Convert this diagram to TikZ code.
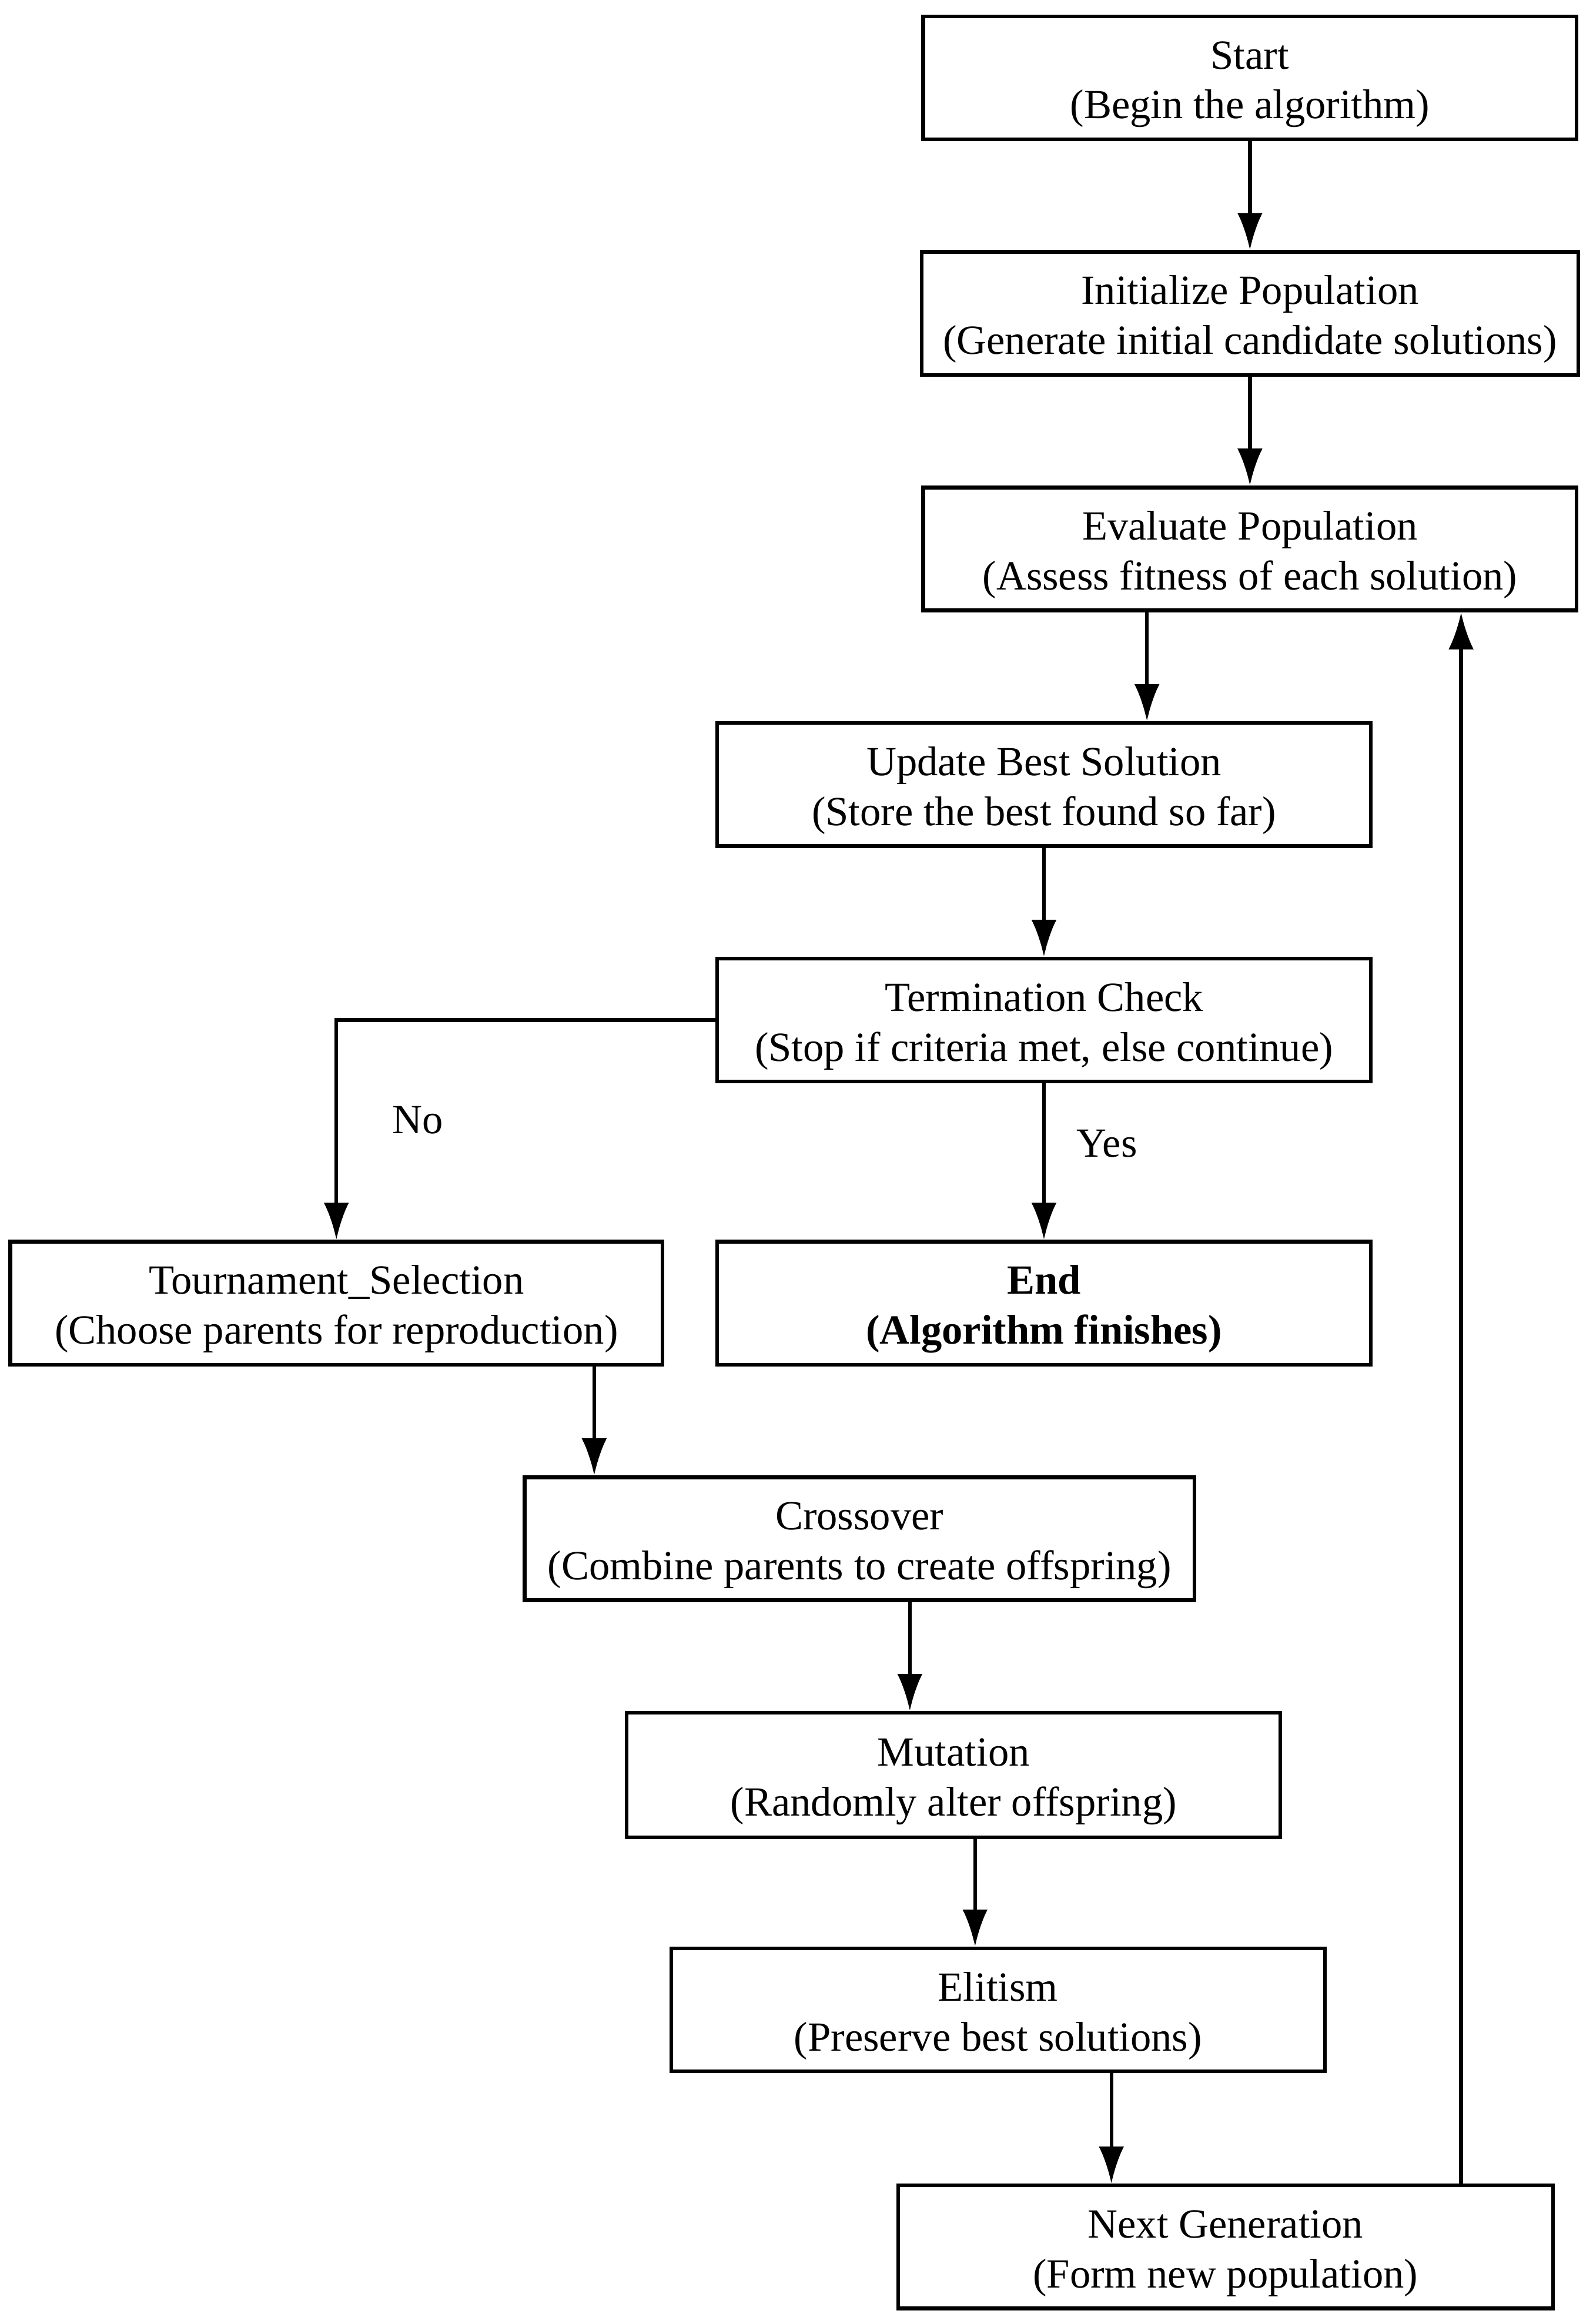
\documentclass[tikz,border=0pt]{standalone}
\usepackage{fontspec}
\setmainfont{Liberation Serif}
\usetikzlibrary{arrows.meta}
\newcommand{\myboxstrut}{\rule{0pt}{27.5pt}}
\begin{document}
\begin{tikzpicture}[x=1pt,y=-1pt,
  box/.style={draw=black,line width=2.5pt,rectangle,minimum height=83pt,inner sep=0pt,align=center,
    font=\fontsize{28}{33.6}\selectfont},
  arr/.style={draw=black,line width=2.5pt,-{Latex[length=25pt,width=17pt]}},
  lbl/.style={font=\fontsize{28}{33.6}\selectfont,inner sep=0pt}]
\useasboundingbox[fill=white] (0,0) rectangle (1075,1568.5);
\node[box,minimum width=441pt] (start) at (843.5,52.5) {\myboxstrut Start\\(Begin the algorithm)};
\node[box,minimum width=443pt] (init) at (843.5,211.5) {\myboxstrut Initialize Population\\(Generate initial candidate solutions)};
\node[box,minimum width=441pt] (eval) at (843.5,370.5) {\myboxstrut Evaluate Population\\(Assess fitness of each solution)};
\node[box,minimum width=441pt] (upd) at (704.5,529.5) {\myboxstrut Update Best Solution\\(Store the best found so far)};
\node[box,minimum width=441pt] (term) at (704.5,688.5) {\myboxstrut Termination Check\\(Stop if criteria met, else continue)};
\node[box,minimum width=440pt] (tour) at (227,879.5) {\myboxstrut Tournament\_Selection\\(Choose parents for reproduction)};
\node[box,minimum width=441pt,font=\fontsize{28}{33.6}\selectfont\bfseries] (end) at (704.5,879.5) {\myboxstrut End\\(Algorithm finishes)};
\node[box,minimum width=452pt] (cross) at (580,1038.5) {\myboxstrut Crossover\\(Combine parents to create offspring)};
\node[box,minimum width=441pt,minimum height=84pt] (mut) at (643.5,1198) {\myboxstrut Mutation\\(Randomly alter offspring)};
\node[box,minimum width=441pt] (elit) at (673.5,1356.5) {\myboxstrut Elitism\\(Preserve best solutions)};
\node[box,minimum width=442pt] (next) at (827,1516.5) {\myboxstrut Next Generation\\(Form new population)};
\coordinate (xa) at (774,0);
\coordinate (xb) at (401,0);
\coordinate (xc) at (614,0);
\coordinate (xd) at (658,0);
\coordinate (xe) at (750,0);
\coordinate (xf) at (986,0);
\draw[arr] (start) -- (init);
\draw[arr] (init) -- (eval);
\draw[arr] (eval.south -| xa) -- (upd.north -| xa);
\draw[arr] (upd) -- (term);
\draw[arr] (term) -- (end);
\draw[arr] (term.west) -| (tour.north);
\draw[arr] (tour.south -| xb) -- (cross.north -| xb);
\draw[arr] (cross.south -| xc) -- (mut.north -| xc);
\draw[arr] (mut.south -| xd) -- (elit.north -| xd);
\draw[arr] (elit.south -| xe) -- (next.north -| xe);
\draw[arr] (next.north -| xf) -- (eval.south -| xf);
\node[lbl] (yes) at (747,772) {Yes};
\node[lbl] (no) at (282,756) {No};
\end{tikzpicture}
\end{document}
